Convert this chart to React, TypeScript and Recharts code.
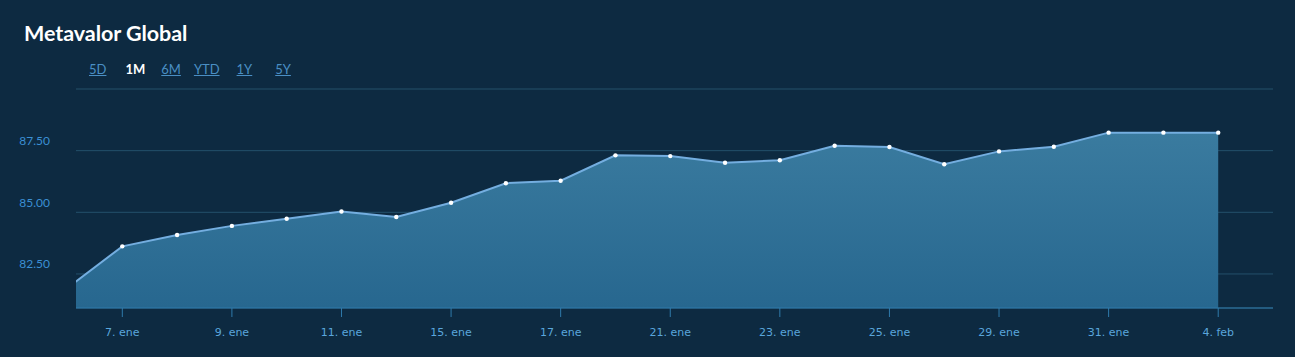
import React from 'react';
import { AreaChart, Area, XAxis, YAxis, CartesianGrid } from 'recharts';

const dates = [
  '4. ene', '7. ene', '8. ene', '9. ene', '10. ene', '11. ene', '14. ene', '15. ene',
  '16. ene', '17. ene', '18. ene', '21. ene', '22. ene', '23. ene', '24. ene', '25. ene',
  '28. ene', '29. ene', '30. ene', '31. ene', '1. feb', '4. feb',
];
const values = [
  81.93, 83.62, 84.08, 84.45, 84.74, 85.03, 84.81, 85.39,
  86.18, 86.28, 87.31, 87.28, 87.01, 87.11, 87.7, 87.65,
  86.95, 87.47, 87.66, 88.23, 88.23, 88.23,
];
const xTickIndexes = [1, 3, 5, 7, 9, 11, 13, 15, 17, 19, 21];
const yTicks = [82.5, 85, 87.5, 90];
const yTickLabels = ['82.50', '85.00', '87.50', ''];
const ranges = ['5D', '1M', '6M', 'YTD', '1Y', '5Y'];
const activeRange = '1M';

const data = values.map((v, i) => ({ i, date: dates[i], value: v }));

const BG = '#0d2a41';

const YTick = (props: any) => {
  const { y, payload } = props;
  const idx = yTicks.indexOf(payload.value);
  const label = idx >= 0 ? yTickLabels[idx] : '';
  if (!label) return null;
  return (
    <text x={50} y={y - 10} dy="0.35em" textAnchor="end" fill="#3b8fd3" fontSize={12} fontFamily="Lato, sans-serif">
      {label}
    </text>
  );
};

const XTick = (props: any) => {
  const { x, y, payload } = props;
  return (
    <text x={x} y={y + 17} textAnchor="middle" fill="#5aa6dc" fontSize={11} fontFamily="'DejaVu Sans', sans-serif">
      {dates[payload.value]}
    </text>
  );
};

export default function App() {
  return (
    <div style={{ position: 'absolute', left: 0, top: 0, width: 1295, height: 357, background: BG, overflow: 'hidden' }}>
      <div style={{ position: 'absolute', left: 24, top: 20, color: '#ffffff', fontFamily: 'Lato, sans-serif', fontWeight: 700, fontSize: 21.5, letterSpacing: -0.05 }}>
        Metavalor Global
      </div>
      <div style={{ position: 'absolute', left: 89, top: 61, display: 'flex', fontFamily: 'Lato, sans-serif', fontSize: 13 }}>
        {ranges.map((r, k) => (
          <span
            key={r}
            style={{
              marginRight: [19, 16, 13, 17, 23, 0][k],
              color: r === activeRange ? '#ffffff' : '#4a8fc4',
              fontWeight: r === activeRange ? 700 : 400,
              textDecoration: r === activeRange ? 'none' : 'underline',
            }}
          >
            {r}
          </span>
        ))}
      </div>
      <div style={{ position: 'absolute', left: 0, top: 0 }}>
        <AreaChart width={1295} height={357} data={data} margin={{ top: 89, right: 22, bottom: 0, left: 0 }}>
          <defs>
            <linearGradient id="fillGrad" x1="0" y1="0" x2="0" y2="1">
              <stop offset="0%" stopColor="#3a7b9f" />
              <stop offset="100%" stopColor="#27678f" />
            </linearGradient>
          </defs>
          <CartesianGrid vertical={false} stroke="#24506b" strokeWidth={1} />
          <XAxis
            dataKey="i"
            type="number"
            domain={[0.155, 22.0]}
            allowDataOverflow
            ticks={xTickIndexes}
            interval={0}
            height={49}
            axisLine={{ stroke: '#2f7bab' }}
            tickLine={{ stroke: '#2f7bab' }}
            tickSize={9}
            tick={<XTick />}
          />
          <YAxis
            type="number"
            domain={[81.12, 90]}
            allowDataOverflow
            ticks={yTicks}
            width={76}
            axisLine={false}
            tickLine={false}
            tick={<YTick />}
          />
          <Area
            type="linear"
            dataKey="value"
            stroke="#74aee0"
            strokeWidth={2}
            fill="url(#fillGrad)"
            fillOpacity={1}
            dot={{ r: 2.2, fill: '#ffffff', stroke: 'none' }}
            activeDot={false}
            isAnimationActive={false}
          />
        </AreaChart>
      </div>
    </div>
  );
}
